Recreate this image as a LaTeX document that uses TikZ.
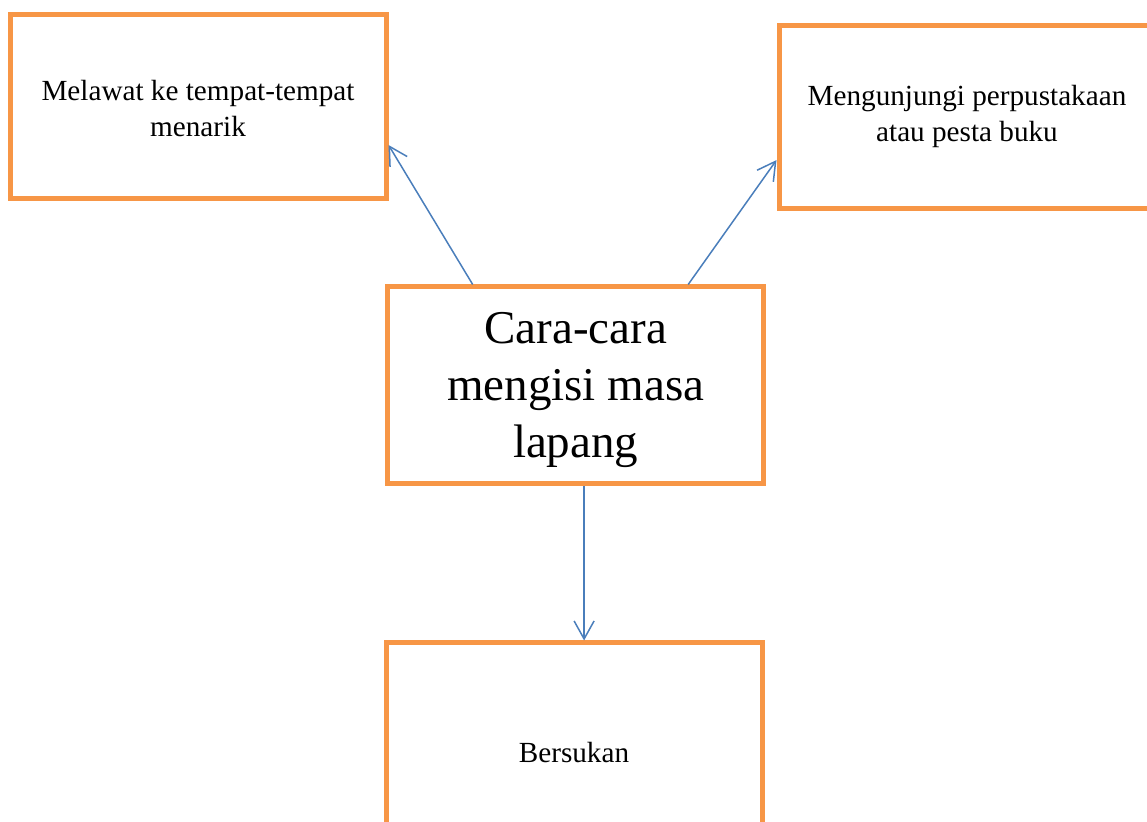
\documentclass[tikz,border=0pt]{standalone}
\usepackage{fontspec}
\setmainfont{Liberation Serif}
\usetikzlibrary{arrows.meta}
\definecolor{boxorange}{HTML}{F79646}
\definecolor{lineblue}{HTML}{4A7EBB}
\begin{document}
\begin{tikzpicture}[
		x=0.5pt, y=-0.5pt,
		box/.style={draw=boxorange, line width=2.5pt, align=center, minimum width=188pt, inner sep=0pt},
		small/.style={font=\fontsize{14.6}{18}\selectfont},
		big/.style={font=\fontsize{23.5}{28.3}\selectfont},
		link/.style={draw=lineblue, line width=0.75pt, -{Straight Barb[length=9pt, width=10pt]}}
	]
	\useasboundingbox (0,0) rectangle (1147,822);
	\node[box, big, minimum height=98.5pt] (root) at (575.7,385.5) {\rule{0pt}{20pt}Cara-cara\\mengisi masa\\lapang};
	\node[box, small, minimum height=92pt] (melawat) at (198,107) {\rule{0pt}{12pt}Melawat ke tempat-tempat\\menarik};
	\node[box, small, minimum height=91.5pt] (perpustakaan) at (967,116.7) {Mengunjungi perpustakaan\\atau pesta buku};
	\node[box, small, minimum height=110pt] (bersukan) at (574,753) {Bersukan};
	\draw[link] ([xshift=43.75pt]root.north west) -- ([yshift=-19pt]melawat.east);
	\draw[link] ([xshift=-39pt]root.north east) -- ([yshift=-21.7pt]perpustakaan.west);
	\draw[link] ([xshift=4.2pt]root.south) -- ([xshift=4.2pt]root.south |- bersukan.north);
\end{tikzpicture}
\end{document}
